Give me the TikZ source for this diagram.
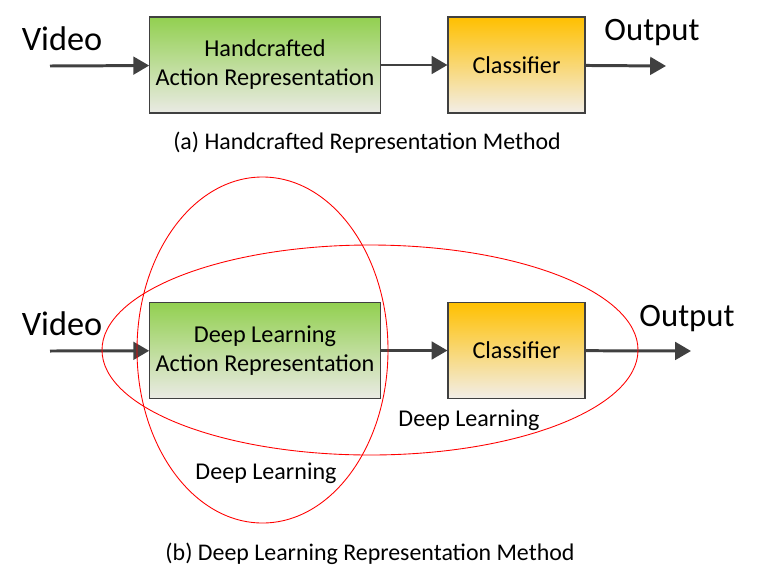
\documentclass[tikz,border=0pt]{standalone}
\usepackage{fontspec}
\setmainfont{Carlito}
\usetikzlibrary{arrows.meta}

\definecolor{arrowgray}{RGB}{64,64,64}
\definecolor{greentop}{RGB}{146,208,80}
\definecolor{greenbot}{RGB}{234,234,228}
\definecolor{orangetop}{RGB}{255,192,0}
\definecolor{orangebot}{RGB}{242,238,232}

\tikzset{
  repbox/.style={draw=arrowgray, line width=0.6pt, top color=greentop, bottom color=greenbot,
    minimum width=4.6cm, minimum height=1.92cm, align=center, font=\fontsize{13.8}{16.5}\selectfont},
  clsbox/.style={draw=arrowgray, line width=0.6pt, top color=orangetop, bottom color=orangebot,
    minimum width=2.74cm, minimum height=1.92cm, font=\fontsize{13.8}{16.5}\selectfont},
  flow/.style={draw=arrowgray, line width=1.7pt, -{Triangle[length=9pt, width=10pt]}},
  biglabel/.style={font=\fontsize{19.5}{24}\selectfont},
  outlabel/.style={font=\fontsize{18.6}{22}\selectfont},
  dllabel/.style={font=\fontsize{13.7}{17}\selectfont},
  caption/.style={font=\fontsize{13.6}{16}\selectfont},
}

\begin{document}
\begin{tikzpicture}[x=0.02cm, y=-0.02cm]

\useasboundingbox (0,0) rectangle (777,572);

\begin{scope}

% (a) handcrafted
\coordinate (inA) at (50,66);
\node [repbox] (hand) at (265,65) {Handcrafted\\Action Representation};
\node [clsbox] (clsA) at (516.5,65) {Classifier};
\coordinate (outA) at (666,66);
\draw [flow] (inA) -- (hand);
\draw [flow] (hand) -- (clsA);
\draw [flow] (clsA) -- (outA);
\node [biglabel] (vidA) at (62,39) {Video};
\node [outlabel] (resA) at (652,33) {Output};
\node [caption] (capA) at (367,142.5) {(a) Handcrafted Representation Method};

% (b) deep learning
\coordinate (inB) at (50,351);
\node [repbox] (deep) at (265,350.5) {Deep Learning\\Action Representation};
\node [clsbox] (clsB) at (516.5,350.5) {Classifier};
\coordinate (outB) at (691,351);
\draw [flow] (inB) -- (deep);
\draw [flow] (deep) -- (clsB);
\draw [flow] (clsB) -- (outB);
\node [biglabel] (vidB) at (62,324) {Video};
\node [outlabel] (resB) at (687,319) {Output};

\draw [red, line width=0.5pt] (262.5,350) ellipse [x radius=125.5, y radius=173];
\draw [red, line width=0.5pt] (370,350) ellipse [x radius=268, y radius=105];
\node [dllabel] (dlB) at (469,420.5) {Deep Learning};
\node [dllabel] (dlA) at (266,473.5) {Deep Learning};

\node [caption] (capB) at (370,553.5) {(b) Deep Learning Representation Method};

\end{scope}

\end{tikzpicture}
\end{document}
